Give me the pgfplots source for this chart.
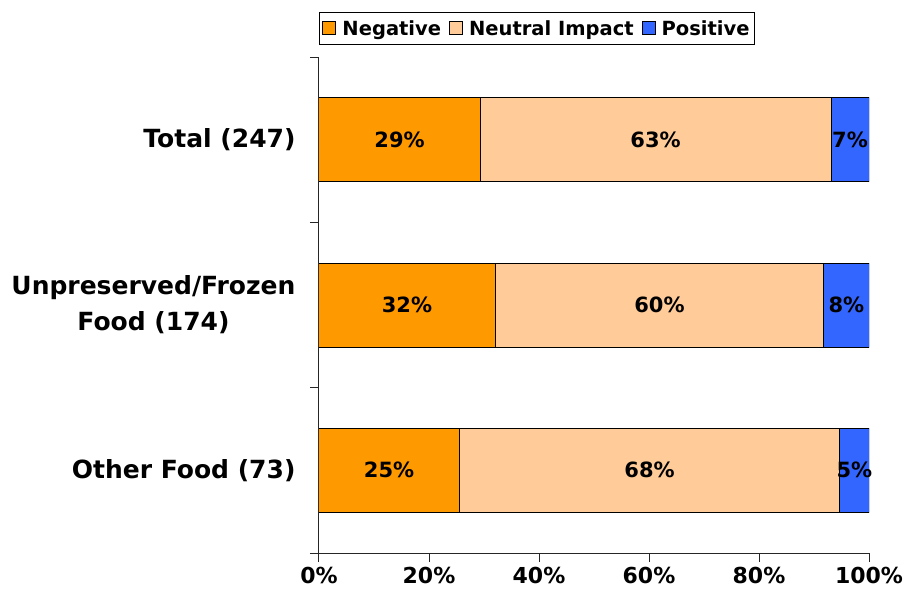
\documentclass[border=0pt]{standalone}
\usepackage{fontspec}
\setmainfont{DejaVu Sans}
\usepackage{pgfplots}
\usepackage{pgfplotstable}
\pgfplotsset{compat=1.18}
\definecolor{negc}{HTML}{FF9900}
\definecolor{neuc}{HTML}{FFCC99}
\definecolor{posc}{HTML}{3366FF}

\pgfplotstableread{
y neg neu pos
0 25.5 69.2 5.3
1 32.0 59.8 8.2
2 29.3 63.8 6.9
}\bars

\pgfplotstableread{
x y label
12.75 0 25\%
60.1 0 68\%
97.35 0 5\%
16.0 1 32\%
61.9 1 60\%
95.9 1 8\%
14.65 2 29\%
61.2 2 63\%
96.55 2 7\%
}\labels

\begin{document}
\begin{tikzpicture}[font=\bfseries]
\useasboundingbox (0,0) rectangle (908pt,598pt);
\begin{axis}[
  at={(319pt,45pt)}, anchor=south west,
  scale only axis, width=550pt, height=496pt,
  xbar stacked, bar width=84pt,
  xmin=0, xmax=100, ymin=-0.5, ymax=2.5,
  axis lines=left,
  axis line style={-, line width=1pt, black!85},
  xtick={0,20,40,60,80,100},
  xticklabels={0\%,20\%,40\%,60\%,80\%,100\%},
  ytick={-0.5,0.5,1.5,2.5}, yticklabels={},
  extra y ticks={0,1,2},
  extra y tick labels={Other Food (73),{Unpreserved/Frozen\\Food (174)},Total (247)},
  extra y tick style={major tick length=0pt,
     yticklabel style={align=center, xshift=-20pt, font=\fontsize{25}{36}\selectfont\bfseries}},
  tick align=outside, major tick length=9pt,
  tick style={line width=1pt, black!85},
  x tick label style={font=\fontsize{22}{26}\selectfont\bfseries, yshift=-2pt},
  legend columns=3,
  legend style={at={(0,1)}, anchor=south west, yshift=12pt, draw=black, line width=1pt,
     font=\fontsize{19.5}{22}\selectfont\bfseries, inner xsep=3pt, inner ysep=6pt,
     /tikz/every odd column/.append style={column sep=4pt},
     /tikz/every even column/.append style={column sep=6pt}},
  legend image code/.code={\draw[#1, draw=black, line width=1pt] (0pt,-6pt) rectangle (13pt,7pt);},
]
\addplot[fill=negc, draw=black, line width=1pt] table[x=neg,y=y]{\bars};
\addplot[fill=neuc, draw=black, line width=1pt] table[x=neu,y=y]{\bars};
\addplot[fill=posc, draw=black, line width=1pt] table[x=pos,y=y]{\bars};
\legend{Negative,Neutral Impact,Positive}
\end{axis}
\begin{axis}[
  at={(319pt,45pt)}, anchor=south west,
  scale only axis, width=550pt, height=496pt,
  xmin=0, xmax=100, ymin=-0.5, ymax=2.5,
  hide axis,
]
\addplot[only marks, mark=*, mark size=0pt, mark options={draw=none,fill=none},
  nodes near coords, point meta=explicit symbolic,
  nodes near coords style={anchor=center, font=\fontsize{21}{24}\selectfont\bfseries}]
  table[x=x,y=y,meta=label]{\labels};
\end{axis}
\end{tikzpicture}
\end{document}
